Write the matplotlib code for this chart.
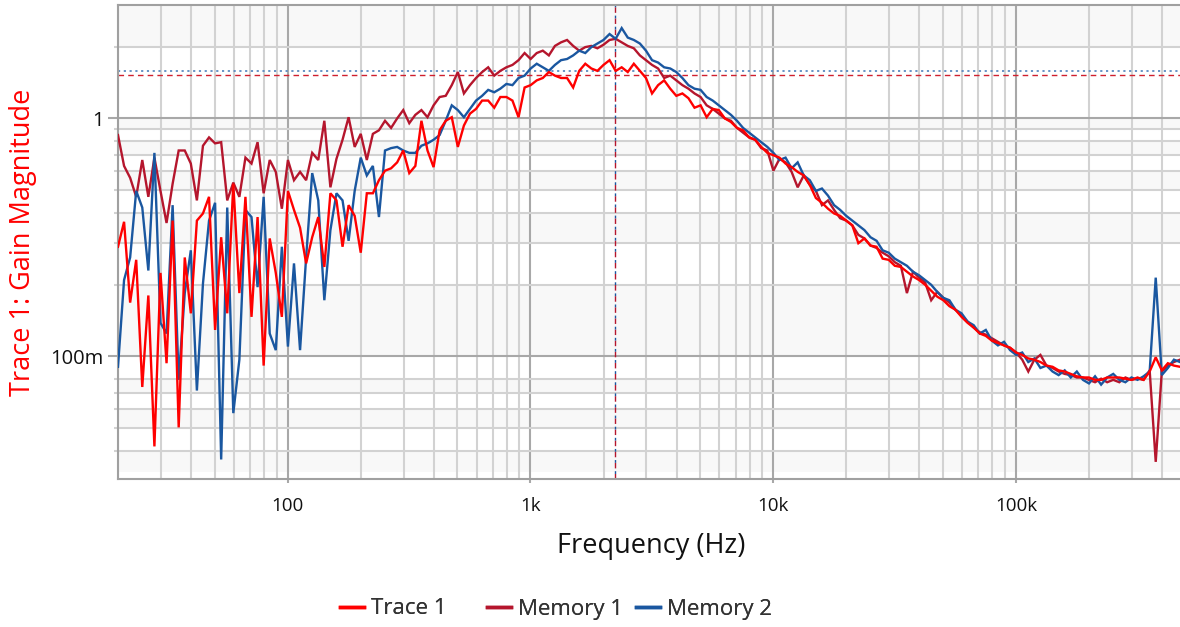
import numpy as np
import matplotlib
matplotlib.use("Agg")
import matplotlib.pyplot as plt
from matplotlib.lines import Line2D
from matplotlib.ticker import FixedLocator, FixedFormatter, NullFormatter

# ---------------- data ----------------
# sweep: 40 log-spaced points per decade, 20 Hz .. ~474 kHz
freq_hz = np.geomspace(20, 474000, 176)

trace1_db = [
    -10.8, -8.7, -15.5, -11.9, -22.6, -14.9, -27.6, -13.0, -20.6, -8.6,
    -26.0, -11.7, -16.4, -8.6, -8.0, -6.6, -17.8, -10.0, -16.4, -5.5,
    -14.7, -6.6, -16.7, -8.3, -20.8, -10.1, -13.0, -16.7, -6.1, -7.7,
    -9.2, -12.2, -10.0, -8.3, -12.5, -6.3, -6.9, -10.8, -7.3, -8.2,
    -11.3, -6.3, -6.3, -5.2, -4.4, -4.2, -3.7, -2.7, -4.6, -4.0,
    -0.2, -2.7, -4.1, -1.0, -0.2, 0.1, -2.4, -0.6, 0.4, 0.8,
    1.5, 1.5, 0.9, 1.8, 1.8, 1.5, 0.1, 2.6, 2.8, 3.2,
    3.4, 3.9, 3.6, 3.4, 3.4, 2.6, 4.0, 4.6, 4.2, 4.0,
    4.5, 4.9, 4.0, 4.3, 3.9, 4.6, 4.0, 3.4, 2.1, 2.8,
    3.2, 2.5, 1.9, 2.1, 1.7, 0.9, 1.1, 0.1, 0.8, 0.7,
    0.0, -0.3, -0.8, -1.0, -1.6, -1.8, -2.4, -2.9, -3.1, -3.3,
    -3.8, -4.1, -4.5, -4.8, -5.6, -6.7, -7.1, -7.6, -8.0, -8.2,
    -8.6, -9.0, -10.5, -10.1, -10.7, -10.8, -11.8, -11.9, -12.4, -12.5,
    -12.9, -13.3, -13.6, -14.0, -14.5, -15.0, -15.3, -15.8, -16.1, -16.7,
    -17.2, -17.6, -18.1, -18.3, -18.7, -18.9, -19.1, -19.3, -19.7, -19.9,
    -20.2, -20.3, -20.5, -20.8, -20.9, -21.2, -21.3, -21.5, -21.7, -21.8,
    -21.8, -22.0, -22.0, -21.8, -21.8, -21.8, -21.9, -22.0, -21.8, -22.0,
    -21.3, -20.1, -21.2, -20.6, -20.8, -20.9,
]

memory1_db = [
    -1.4, -4.0, -5.0, -6.6, -3.5, -6.6, -3.3, -6.1, -8.8, -5.5,
    -2.7, -2.7, -3.8, -6.9, -2.3, -1.6, -2.1, -2.0, -6.9, -5.4,
    -6.6, -3.3, -3.8, -2.0, -6.3, -3.5, -4.5, -7.6, -3.5, -5.2,
    -4.5, -5.2, -2.9, -3.5, -0.2, -5.8, -3.4, -1.8, 0.1, -2.4,
    -1.3, -3.5, -1.3, -1.0, -0.2, -0.8, 0.0, 0.7, -0.4, 0.3,
    0.7, 0.1, 1.1, 1.8, 1.9, 2.8, 3.9, 2.1, 2.8, 3.4,
    3.9, 4.3, 3.6, 4.0, 4.3, 4.5, 4.9, 5.5, 5.0, 5.5,
    5.7, 5.3, 6.1, 6.4, 6.6, 6.1, 5.7, 6.0, 6.1, 5.9,
    6.2, 6.6, 6.7, 6.4, 6.1, 5.9, 5.3, 4.9, 4.5, 4.2,
    3.4, 3.6, 3.2, 2.8, 2.5, 2.1, 1.8, 1.1, 0.8, 0.4,
    0.0, -0.2, -0.8, -1.2, -1.6, -1.8, -2.5, -2.7, -4.4, -3.4,
    -3.7, -4.5, -5.8, -4.8, -5.6, -6.1, -7.3, -6.9, -7.7, -8.4,
    -8.6, -9.0, -9.8, -10.1, -10.7, -10.9, -11.3, -11.6, -12.1, -12.4,
    -14.7, -12.9, -13.4, -13.8, -15.3, -14.6, -15.1, -15.5, -16.1, -16.6,
    -17.1, -17.6, -18.0, -18.2, -18.5, -18.8, -19.1, -19.3, -19.7, -20.3,
    -21.3, -20.3, -19.9, -20.8, -21.0, -21.3, -21.5, -21.6, -21.8, -21.8,
    -22.0, -22.2, -21.9, -22.2, -22.0, -22.2, -21.8, -22.0, -21.9, -22.0,
    -21.2, -28.9, -21.3, -20.8, -20.5, -20.3,
]

memory2_db = [
    -20.9, -13.6, -11.7, -6.1, -7.5, -12.8, -2.9, -17.2, -18.1, -7.3,
    -22.0, -14.7, -11.1, -22.9, -13.9, -8.6, -7.1, -28.7, -7.5, -24.8,
    -20.3, -7.7, -8.3, -14.2, -6.6, -18.1, -19.5, -10.8, -19.2, -12.2,
    -19.5, -11.7, -4.6, -6.9, -15.3, -9.4, -6.3, -6.9, -10.3, -6.1,
    -3.3, -4.8, -4.0, -8.3, -2.7, -2.5, -2.4, -2.7, -2.9, -2.9,
    -2.3, -2.1, -1.8, -1.4, -0.2, 1.1, 0.7, 0.1, 0.8, 1.5,
    1.9, 2.4, 2.2, 2.5, 2.9, 2.8, 3.4, 3.6, 4.2, 4.6,
    4.3, 4.0, 4.5, 4.9, 5.0, 5.3, 5.7, 5.5, 6.0, 6.3,
    6.6, 7.1, 6.7, 7.6, 6.8, 6.6, 6.3, 5.7, 4.9, 4.7,
    4.3, 4.2, 3.9, 3.4, 2.8, 2.5, 2.4, 1.8, 1.5, 1.1,
    0.7, 0.3, -0.2, -0.8, -1.2, -1.6, -2.0, -2.4, -2.9, -3.5,
    -3.3, -4.2, -3.7, -4.8, -5.2, -6.1, -5.9, -6.5, -7.3, -7.7,
    -8.2, -8.6, -9.0, -9.4, -10.0, -10.3, -11.1, -11.3, -11.8, -12.1,
    -12.4, -12.9, -13.2, -13.6, -14.0, -14.6, -15.1, -15.3, -16.1, -16.4,
    -17.1, -17.4, -18.1, -17.8, -18.7, -19.1, -18.8, -19.5, -19.9, -19.7,
    -20.5, -20.2, -21.0, -20.8, -21.3, -21.6, -21.2, -21.8, -21.3, -22.0,
    -22.3, -21.7, -22.4, -21.8, -21.5, -22.0, -22.2, -21.8, -22.0, -21.7,
    -21.3, -13.4, -21.6, -21.0, -20.3, -20.5,
]

series_names = ["Trace 1", "Memory 1", "Memory 2"]
series_colors = ["#ff0000", "#b5162d", "#1a57a0"]

marker_freq_hz = 2220
marker_level_mem = 1.53
marker_level_m2 = 1.576

x_major = [100, 1e3, 1e4, 1e5]
x_major_labels = ["100", "1k", "10k", "100k"]
x_minor = [20, 30, 40, 50, 60, 70, 80, 90,
           200, 300, 400, 500, 600, 700, 800, 900,
           2e3, 3e3, 4e3, 5e3, 6e3, 7e3, 8e3, 9e3,
           2e4, 3e4, 4e4, 5e4, 6e4, 7e4, 8e4, 9e4,
           2e5, 3e5, 4e5]
y_major = [0.1, 1]
y_major_labels = ["100m", "1"]
y_minor = [0.04, 0.05, 0.06, 0.07, 0.08,
           0.2, 0.3, 0.4, 0.5, 0.6, 0.7, 0.8, 0.9, 2]
shaded_bands = [(2, 3), (0.9, 1), (0.7, 0.8), (0.5, 0.6), (0.3, 0.4),
                (0.1, 0.2), (0.07, 0.08), (0.05, 0.06), (0.0326, 0.04)]

# ---------------- figure ----------------
FONT = ["Open Sans", "DejaVu Sans"]
plt.rcParams["font.family"] = FONT

W, H = 1180, 627
fig = plt.figure(figsize=(W / 100, H / 100), dpi=100)
ax = fig.add_axes([118 / W, 1 - 479 / H, 1 - 118 / W, (479 - 5) / H])
ax.set_facecolor("white")
ax.set_xscale("log")
ax.set_yscale("log")
ax.set_xlim(20, 474000)
ax.set_ylim(0.0304, 3.0)

for lo, hi in shaded_bands:
    ax.axhspan(lo, hi, color="#f8f8f8", lw=0, zorder=0)

ax.xaxis.set_major_locator(FixedLocator(x_major))
ax.xaxis.set_major_formatter(FixedFormatter(x_major_labels))
ax.xaxis.set_minor_locator(FixedLocator(x_minor))
ax.xaxis.set_minor_formatter(NullFormatter())
ax.yaxis.set_major_locator(FixedLocator(y_major))
ax.yaxis.set_major_formatter(FixedFormatter(y_major_labels))
ax.yaxis.set_minor_locator(FixedLocator(y_minor))
ax.yaxis.set_minor_formatter(NullFormatter())

ax.set_axisbelow(True)
ax.grid(which="major", color="#a8a8a8", lw=1.5, zorder=1)
ax.grid(which="minor", color="#d2d2d2", lw=1.5, zorder=1)

ax.tick_params(axis="y", which="major", length=7, width=1.5, color="#a8a8a8",
               pad=3.5, labelsize=14.5, labelcolor="#111111")
ax.tick_params(axis="y", which="minor", length=3, width=1.5, color="#d2d2d2")
ax.tick_params(axis="x", which="major", length=3, width=1.5, color="#a8a8a8",
               pad=10, labelsize=13.5, labelcolor="#111111")
ax.tick_params(axis="x", which="minor", length=0)

for side in ["left", "bottom", "top"]:
    ax.spines[side].set_color("#a0a0a0")
    ax.spines[side].set_linewidth(1.5)
ax.spines["right"].set_visible(False)

# markers
ax.axvline(marker_freq_hz, color="#b5162d", lw=1.0, ls=(0, (4, 4)), zorder=2)
ax.axvline(marker_freq_hz, color="#1a57a0", lw=1.0, ls=(4, (2, 6)), zorder=2)
ax.axhline(marker_level_mem, color="#d0202e", lw=1.0, ls=(0, (4, 3)), zorder=2)
ax.axhline(marker_level_m2, color="#5b8ac0", lw=1.3, ls=(0, (1.2, 2)), zorder=2)

# series
mags = {name: 10 ** (np.array(db) / 20.0) for name, db in
        zip(series_names, [trace1_db, memory1_db, memory2_db])}
zorders = {"Trace 1": 5, "Memory 1": 3, "Memory 2": 4}
handles = []
for name, col in zip(series_names, series_colors):
    ax.plot(freq_hz, mags[name], color=col, lw=1.7, zorder=zorders[name],
            solid_joinstyle="miter", label=name)
    handles.append(Line2D([], [], color=col, lw=2.5))

ax.set_xlabel("Frequency (Hz)", fontsize=19.5, color="#111111")
ax.xaxis.set_label_coords(0.502, -0.112)
ax.set_ylabel("Trace 1: Gain Magnitude", fontsize=19.5, color="#ff0000")
ax.yaxis.set_label_coords(-0.076, 0.5)

# legend (one entry each, laid out along the bottom)
legend_x = [340, 487, 636]
for h, name, xp in zip(handles, series_names, legend_x):
    lg = fig.legend(handles=[h], labels=[name], loc="center left",
                    bbox_to_anchor=(xp / W, 1 - 609 / H), frameon=False,
                    fontsize=16, handlelength=1.1, handletextpad=0.3,
                    borderpad=0, borderaxespad=0, labelcolor="#333333")
    fig.add_artist(lg)

fig.savefig("out.png", dpi=100)
